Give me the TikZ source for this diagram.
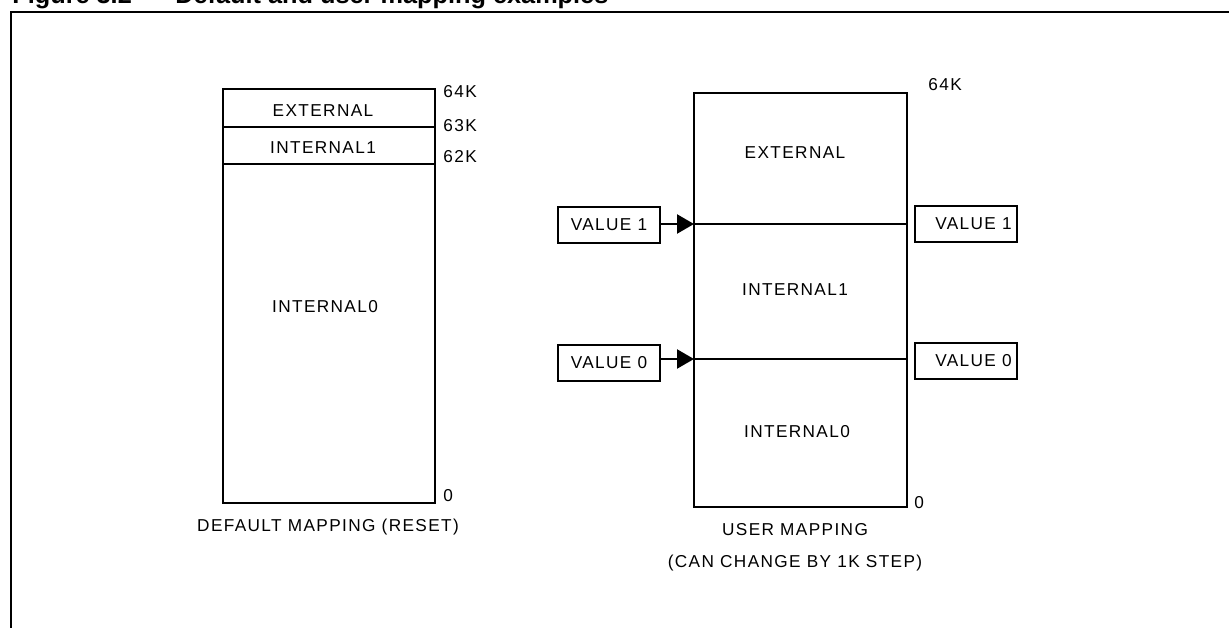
\documentclass[tikz,border=0pt]{standalone}
\usepackage{fontspec}
\setmainfont{Liberation Sans}[LetterSpace=8]
\newfontfamily\titlefont{Liberation Sans}
\usetikzlibrary{positioning}
\usetikzlibrary{arrows.meta}

\tikzset{
  memtext/.style={font=\fontsize{9.8}{11}\selectfont, inner sep=0pt},
  valbox/.style={draw, line width=1.3pt, minimum width=2.04cm, minimum height=0.72cm, inner sep=0pt, font=\fontsize{9.8}{11}\selectfont},
  setarrow/.style={line width=1.3pt, -{Triangle[length=0.34cm,width=0.38cm]}},
}

\begin{document}
\begin{tikzpicture}[x=0.02cm, y=-0.02cm]
\useasboundingbox (0,0) rectangle (1229,628);

\draw[line width=1.7pt] (11,700) -- (11,12) -- (1300,12);
\node[anchor=base west, inner sep=0pt, font=\titlefont\bfseries\fontsize{14.4}{16}\selectfont] (fignum) at (12,4) {Figure 3.2};
\node[anchor=base west, inner sep=0pt, font=\titlefont\bfseries\fontsize{14.4}{16}\selectfont] (figtitle) at (175,4) {Default and user mapping examples};

\begin{scope}
\draw[line width=1.5pt] (223,89) rectangle (435,503);
\draw[line width=1.2pt] (223,127) --++(212,0);
\draw[line width=1.2pt] (223,164) --++(212,0);

\node[memtext] (dext) at (323,111) {EXTERNAL};
\node[memtext] (dint1) at (323,148) {INTERNAL1};
\node[memtext] (dint0) at (325,307) {INTERNAL0};

\node[memtext, anchor=west] (d64) at (443,92) {64K};
\node[memtext, anchor=west] (d63) at (443,126) {63K};
\node[memtext, anchor=west] (d62) at (443,157) {62K};
\node[memtext, anchor=west] (d0) at (443,496) {0};

\node[memtext] (dcap) at (328,527) {DEFAULT MAPPING (RESET)};
\end{scope}

\begin{scope}
\draw[line width=1.5pt] (694,93) rectangle (907,507);
\draw[line width=1.2pt] (694,224) --++(213,0);
\draw[line width=1.2pt] (694,359) --++(213,0);

\node[memtext] (uext) at (795,153) {EXTERNAL};
\node[memtext] (uint1) at (795,290) {INTERNAL1};
\node[memtext] (uint0) at (797,432) {INTERNAL0};

\node[memtext, anchor=west] (u64) at (928,85) {64K};
\node[memtext, anchor=west] (u0) at (914,503) {0};

\node[memtext] (ucap) at (795,530) {USER MAPPING};
\node[memtext] (ucap2) at (795,563) {(CAN CHANGE BY 1K STEP)};

\node[valbox] (v1l) at (609,225) {VALUE 1};
\node[valbox] (v0l) at (609,363) {VALUE 0};
\node[valbox] (v1r) at (966,224) {\hspace*{0.3cm}VALUE 1};
\node[valbox] (v0r) at (966,361) {\hspace*{0.3cm}VALUE 0};

\coordinate (p1) at (694,224);
\coordinate (p0) at (694,359);
\draw[setarrow] (v1l.east |- p1) -- (p1);
\draw[setarrow] (v0l.east |- p0) -- (p0);
\end{scope}

\end{tikzpicture}
\end{document}
